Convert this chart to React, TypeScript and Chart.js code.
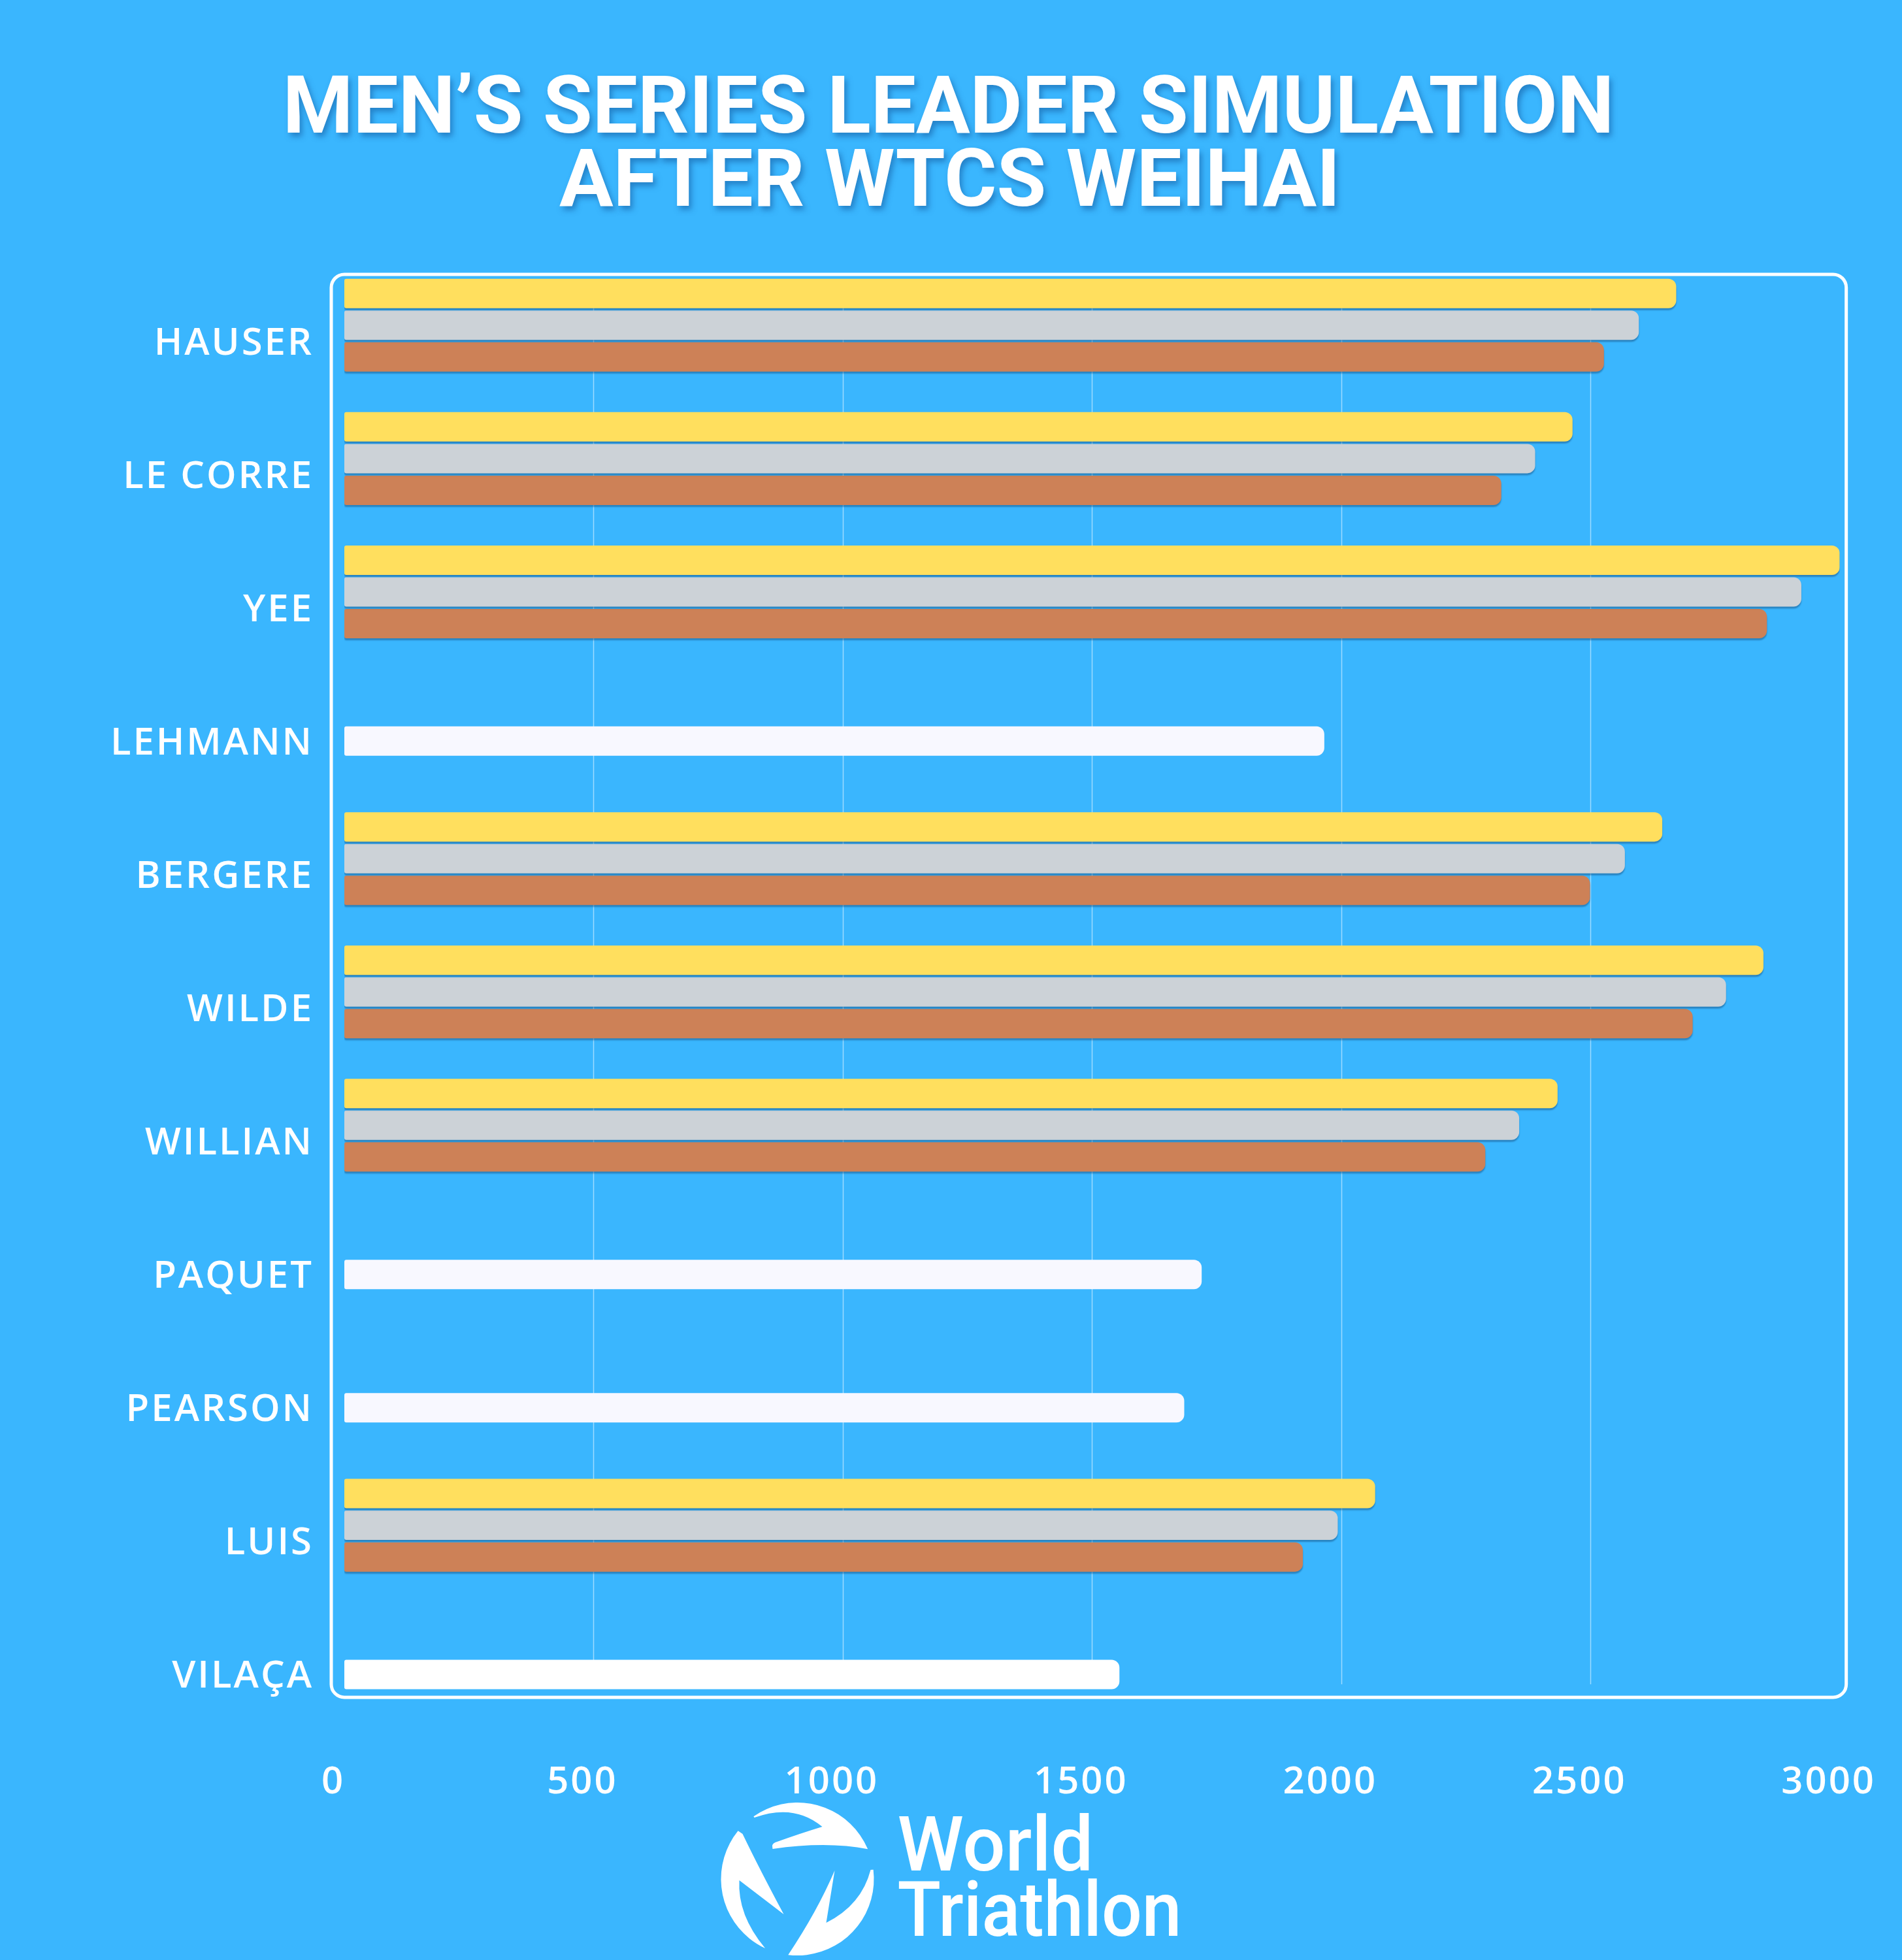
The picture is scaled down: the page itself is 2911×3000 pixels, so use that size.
import { useEffect, useRef } from 'react';
import { Chart, registerables } from 'chart.js';

Chart.register(...registerables);

// ---- data ----
const athletes = ['HAUSER', 'LE CORRE', 'YEE', 'LEHMANN', 'BERGERE', 'WILDE', 'WILLIAN', 'PAQUET', 'PEARSON', 'LUIS', 'VILAÇA'];
const ifFirst = [2672, 2464, 3000, null, 2644, 2847, 2434, null, null, 2068, null];
const ifSecond = [2597, 2389, 2923, null, 2569, 2772, 2357, null, null, 1993, null];
const ifThird = [2527, 2321, 2854, null, 2499, 2705, 2289, null, null, 1923, null];
const currentPoints = [0, 0, 0, 1966, 0, 0, 0, 1720, 1685, 0, 1555];
const currentColors = ['#F8F8FF', '#F8F8FF', '#F8F8FF', '#F8F8FF', '#F8F8FF', '#F8F8FF', '#F8F8FF', '#F8F8FF', '#F8F8FF', '#F8F8FF', '#FFFFFF'];
const xTicks = [0, 500, 1000, 1500, 2000, 2500, 3000];
const gridValues = [500, 1000, 1500, 2000, 2500];
const titleLines = ['MEN’S SERIES LEADER SIMULATION', 'AFTER WTCS WEIHAI'];
const logoLines = ['World', 'Triathlon'];

const BG = '#3AB6FE';
const LABEL_FONT = { family: "'Open Sans', sans-serif", size: 58, weight: 600 as const };

export default function App() {
  const ref = useRef<HTMLCanvasElement>(null);

  useEffect(() => {
    document.body.style.margin = '0';
    document.body.style.background = BG;
    const canvas = ref.current!;

    const bgPlugin = {
      id: 'bg',
      beforeDraw(chart: any) {
        const { ctx, width, height } = chart;
        ctx.save();
        ctx.fillStyle = BG;
        ctx.fillRect(0, 0, width, height);
        ctx.restore();
        // spaced-out axis lettering
        (ctx as any).letterSpacing = '3px';
      },
    };

    const framePlugin = {
      id: 'frame',
      beforeDatasetsDraw(chart: any) {
        const { ctx, chartArea } = chart;
        const xs = chart.scales.x;
        const ys = chart.scales.y;
        const left = xs.getPixelForValue(0) - 20;
        const right = chartArea.right + 10;
        const top = chartArea.top;
        const bottom = ys.getPixelForValue(athletes.length - 1) + 35;
        ctx.save();
        ctx.strokeStyle = 'rgba(255,255,255,0.5)';
        ctx.lineWidth = 1.5;
        gridValues.forEach((v) => {
          const x = Math.round(xs.getPixelForValue(v)) + 0.5;
          ctx.beginPath();
          ctx.moveTo(x, top + 14);
          ctx.lineTo(x, bottom - 20);
          ctx.stroke();
        });
        ctx.strokeStyle = '#FFFFFF';
        ctx.lineWidth = 5;
        ctx.beginPath();
        ctx.roundRect(left, top, right - left, bottom - top, 20);
        ctx.stroke();
        ctx.restore();
      },
    };

    const shadowPlugin = {
      id: 'barShadow',
      beforeDatasetDraw(chart: any, args: any) {
        const ctx = chart.ctx;
        ctx.save();
        if (args.index < 3) {
          ctx.shadowColor = 'rgba(20,70,120,0.45)';
          ctx.shadowOffsetY = 3;
          ctx.shadowBlur = 2;
        }
      },
      afterDatasetDraw(chart: any) {
        chart.ctx.restore();
      },
    };

    const decorPlugin = {
      id: 'decor',
      afterDraw(chart: any) {
        const { ctx, width } = chart;
        (ctx as any).letterSpacing = '0px';
        const mid = width / 2;
        // title
        ctx.save();
        ctx.font = "bold 123px Roboto";
        ctx.textAlign = 'center';
        ctx.textBaseline = 'alphabetic';
        ctx.fillStyle = '#FFFFFF';
        ctx.shadowColor = 'rgba(15,80,150,0.5)';
        ctx.shadowOffsetX = 4;
        ctx.shadowOffsetY = 6;
        ctx.shadowBlur = 8;
        ctx.fillText(titleLines[0], mid - 4, 203);
        ctx.fillText(titleLines[1], mid - 2, 315);
        ctx.restore();

        // logo emblem
        const cx = mid - 235;
        const cy = 2876;
        const R = 117;
        const d = Math.PI / 180;
        ctx.save();
        ctx.fillStyle = '#FFFFFF';
        ctx.beginPath();
        ctx.arc(cx, cy, R, -125 * d, -23 * d, false);
        ctx.quadraticCurveTo(cx + 45, cy - 58, cx - 38, cy - 46);
        ctx.quadraticCurveTo(cx - 40, cy - 54, cx - 34, cy - 56);
        ctx.quadraticCurveTo(cx + 5, cy - 70, cx + 38, cy - 80);
        ctx.quadraticCurveTo(cx - 5, cy - 116, cx - 66, cy - 94);
        ctx.closePath();
        ctx.fill();
        ctx.beginPath();
        ctx.arc(cx, cy, R, -141 * d, 115 * d, true);
        ctx.quadraticCurveTo(cx - 92, cy + 55, cx - 89, cy + 2);
        ctx.lineTo(cx - 21, cy + 54);
        ctx.quadraticCurveTo(cx - 58, cy - 15, cx - 84, cy - 69);
        ctx.closePath();
        ctx.fill();
        ctx.beginPath();
        ctx.arc(cx, cy, R, -7 * d, 97 * d, false);
        ctx.quadraticCurveTo(cx + 30, cy + 50, cx + 57, cy - 13);
        ctx.lineTo(cx + 44, cy + 67);
        ctx.quadraticCurveTo(cx + 98, cy + 40, cx + 112, cy - 14);
        ctx.closePath();
        ctx.fill();

        // logo text
        ctx.font = "500 116px Roboto";
        ctx.textAlign = 'left';
        ctx.textBaseline = 'alphabetic';
        ctx.fillText(logoLines[0], mid - 82, 2863, 300);
        ctx.fillText(logoLines[1], mid - 82, 2963, 435);
        ctx.restore();
      },
    };

    const chart = new Chart(canvas, {
      type: 'bar',
      data: {
        labels: athletes,
        datasets: [
          { label: 'If 1st', data: ifFirst, backgroundColor: '#FFDF5E' },
          { label: 'If 2nd', data: ifSecond, backgroundColor: '#CCD2D7' },
          { label: 'If 3rd', data: ifThird, backgroundColor: '#CD8157' },
          { label: 'Current', data: currentPoints, backgroundColor: currentColors },
        ],
      },
      options: {
        indexAxis: 'y',
        responsive: false,
        animation: false,
        layout: { padding: { top: 420, left: 0, right: 92, bottom: 235 } },
        datasets: {
          bar: {
            skipNull: true,
            categoryPercentage: 0.951,
            barPercentage: 0.928,
            maxBarThickness: 45,
            borderSkipped: false,
            borderRadius: { topLeft: 3, bottomLeft: 3, topRight: 12, bottomRight: 12 },
          },
        },
        plugins: {
          legend: { display: false },
          title: { display: false },
          tooltip: { enabled: false },
        },
        scales: {
          x: {
            type: 'linear',
            min: 0,
            max: 3000,
            grid: { display: false, drawTicks: false },
            border: { display: false },
            afterBuildTicks: (s: any) => {
              s.ticks = xTicks.map((v) => ({ value: v }));
            },
            afterFit: (s: any) => {
              s.height = 100;
            },
            ticks: {
              color: '#FFFFFF',
              font: LABEL_FONT,
              padding: 29,
              labelOffset: -17,
              autoSkip: false,
              maxRotation: 0,
              callback: (v: any) => String(v),
            },
          },
          y: {
            type: 'category',
            grid: { display: false, drawTicks: false },
            border: { display: false },
            afterFit: (s: any) => {
              s.width = 527;
            },
            ticks: {
              color: '#FFFFFF',
              font: LABEL_FONT,
              padding: 47,
              labelOffset: 4,
              autoSkip: false,
            },
          },
        },
      } as any,
      plugins: [bgPlugin, framePlugin, shadowPlugin, decorPlugin],
    });

    return () => chart.destroy();
  }, []);

  return (
    <canvas
      ref={ref}
      width={2911}
      height={3000}
      style={{ display: 'block', width: '2911px', height: '3000px' }}
    />
  );
}
